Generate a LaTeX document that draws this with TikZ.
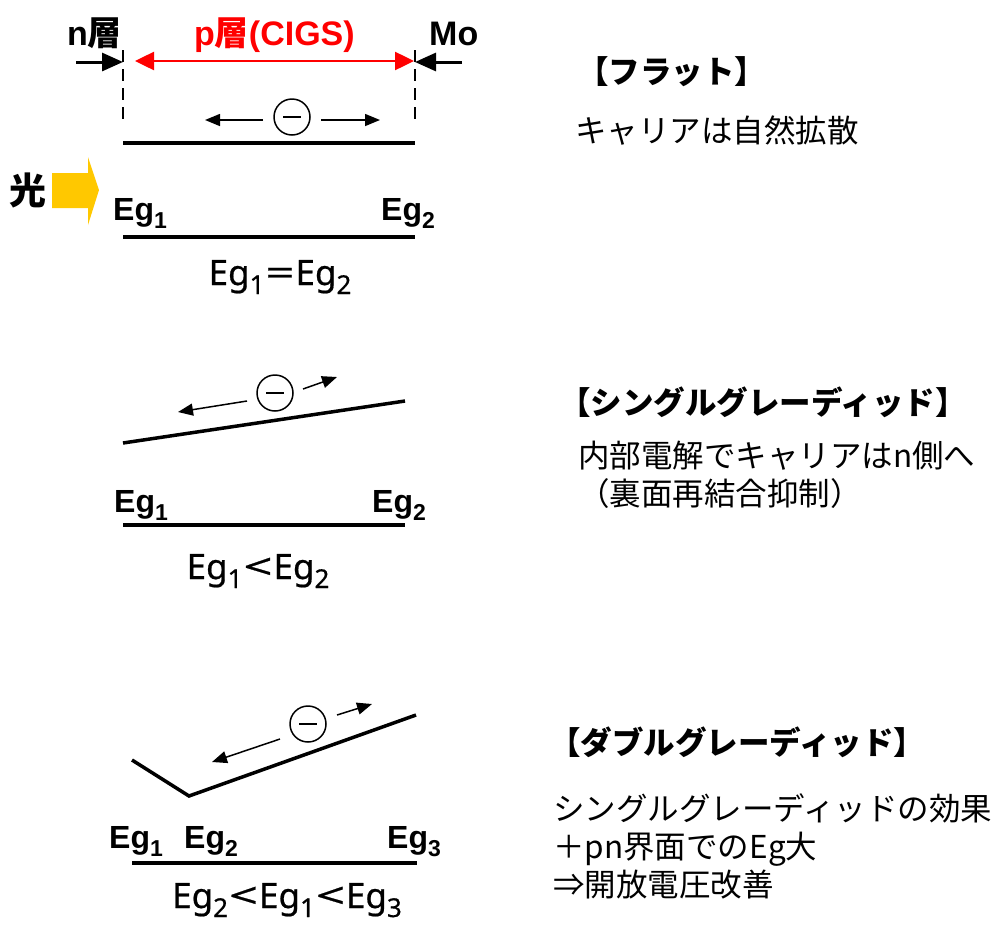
\documentclass[tikz,border=0pt]{standalone}
\usepackage{fontspec}
\setmainfont{Liberation Sans}
\newfontfamily\jp{Noto Sans CJK JP}
\newfontfamily\ns{Noto Sans}[FakeBold=0.6]
\usetikzlibrary{arrows.meta}
\definecolor{gold}{HTML}{FFC800}
\definecolor{pred}{HTML}{FF0000}
\newcommand\sbb[1]{\raisebox{-8pt}{\fontsize{23}{23}\selectfont #1}}
\newcommand\sbe[1]{\raisebox{-9pt}{\fontsize{26}{26}\selectfont #1}}
\newcommand\wrel[1]{\hspace{1pt}\scalebox{1.45}[1]{#1}\hspace{1pt}}
\begin{document}
\begin{tikzpicture}[x=1pt,y=-1pt,
  lbl/.style={font=\bfseries\fontsize{32}{32}\selectfont, inner sep=0, anchor=base west},
  toplbl/.style={font=\bfseries\fontsize{34}{34}\selectfont, inner sep=0, anchor=base west},
  eqn/.style={font=\ns\fontsize{35}{35}\selectfont, inner sep=0, anchor=base},
  hd/.style={font=\jp\bfseries\fontsize{31.5}{38}\selectfont, inner sep=0, anchor=west},
  tx/.style={font=\jp\fontsize{31.5}{38}\selectfont, inner sep=0, anchor=north west, align=left},
  band/.style={line width=3.5pt},
  vline/.style={line width=2.5pt, dash pattern=on 12pt off 7pt},
  elec/.style={circle, draw, line width=1.5pt, minimum size=36pt, inner sep=0},
  earrow/.style={line width=1.5pt, -{Triangle[length=15pt,width=12pt]}},
  barrow/.style={line width=3pt, -{Triangle[length=21pt,width=18pt]}},
  rarrow/.style={pred, line width=2.5pt, {Triangle[length=19pt,width=18pt]}-{Triangle[length=19pt,width=18pt]}}
]
\useasboundingbox (0,0) rectangle (1000,927);

% ---------- Flat ----------
\node[toplbl] (nlay) at (67,45) {n{\jp 層}};
\node[toplbl, text=pred] (play) at (194,45) {p{\jp 層}(CIGS)};
\node[toplbl] (mo) at (429,45) {Mo};
\coordinate (nL) at (123,50); \coordinate (nLb) at (123,120);
\coordinate (mR) at (415,50); \coordinate (mRb) at (415,120);
\draw[vline] (nL) -- (nLb);
\draw[vline] (mR) -- (mRb);
\coordinate (na0) at (76,62); \coordinate (na1) at (123,62);
\draw[barrow] (na0) -- (na1);
\coordinate (ma0) at (462,62); \coordinate (ma1) at (415,62);
\draw[barrow] (ma0) -- (ma1);
\coordinate (ra0) at (135,61); \coordinate (ra1) at (414,61);
\draw[rarrow] (ra0) -- (ra1);

\node[elec] (e1) at (292,117) {};
\draw[line width=1.5pt] ([xshift=-9pt]e1.center) -- ([xshift=9pt]e1.center);
\coordinate (e1l0) at (263,120); \coordinate (e1l1) at (205,120);
\coordinate (e1r0) at (321,120); \coordinate (e1r1) at (380,120);
\draw[earrow] (e1l0) -- (e1l1);
\draw[earrow] (e1r0) -- (e1r1);

\coordinate (c1a) at (123,143); \coordinate (c1b) at (415,143);
\draw[band] (c1a) -- (c1b);
\coordinate (v1a) at (123,237); \coordinate (v1b) at (415,237);
\draw[band] (v1a) -- (v1b);

\fill[gold] (52,173) -- (88,173) -- (88,157) -- (99,190) -- (88,225) -- (88,208) -- (52,208) -- cycle;
\node[font=\jp\bfseries\fontsize{37}{37}\selectfont, inner sep=0] (light) at (28,190) {光};

\node[lbl] (f1) at (113,220) {Eg\sbb{1}};
\node[lbl] (f2) at (381,220) {Eg\sbb{2}};
\node[eqn] (feq) at (280,285) {Eg\sbe{1}\wrel{=}Eg\sbe{2}};

\node[hd] (fh) at (577,72) {【フラット】};
\node[tx, anchor=west] (ft) at (575,131) {キャリアは自然拡散};

% ---------- Single graded ----------
\coordinate (s1a) at (123,443); \coordinate (s1b) at (405,401);
\draw[band] (s1a) -- (s1b);
\node[elec] (e2) at (275,393) {};
\draw[line width=1.5pt] ([xshift=-9pt]e2.center) -- ([xshift=9pt]e2.center);
\coordinate (e2l0) at (247,401); \coordinate (e2l1) at (178,412);
\coordinate (e2r0) at (303,389); \coordinate (e2r1) at (337,377);
\draw[earrow] (e2l0) -- (e2l1);
\draw[earrow] (e2r0) -- (e2r1);
\node[lbl] (s1) at (114,512) {Eg\sbb{1}};
\node[lbl] (s2) at (372,512) {Eg\sbb{2}};
\coordinate (s2a) at (123,525); \coordinate (s2b) at (405,525);
\draw[band] (s2a) -- (s2b);
\node[eqn] (seq) at (258,579) {Eg\sbe{1}\wrel{<}Eg\sbe{2}};

\node[hd] (sh) at (559,402) {【シングルグレーディッド】};
\node[tx] (st) at (578,441) {内部電解でキャリアはn側へ\\（裏面再結合抑制）};

% ---------- Double graded ----------
\coordinate (d1a) at (132,760); \coordinate (d1m) at (189,796); \coordinate (d1b) at (416,715);
\draw[band, line join=miter] (d1a) -- (d1m) -- (d1b);
\node[elec] (e3) at (308,724) {};
\draw[line width=1.5pt] ([xshift=-9pt]e3.center) -- ([xshift=9pt]e3.center);
\coordinate (e3l0) at (280,739); \coordinate (e3l1) at (212,762);
\coordinate (e3r0) at (337,715); \coordinate (e3r1) at (372,704);
\draw[earrow] (e3l0) -- (e3l1);
\draw[earrow] (e3r0) -- (e3r1);
\node[lbl] (d1) at (109,848) {Eg\sbb{1}};
\node[lbl] (d2) at (184,848) {Eg\sbb{2}};
\node[lbl] (d3) at (387,848) {Eg\sbb{3}};
\coordinate (d2a) at (132,863); \coordinate (d2b) at (417,863);
\draw[band] (d2a) -- (d2b);
\node[eqn] (deq) at (287,908) {Eg\sbe{2}\wrel{<}Eg\sbe{1}\wrel{<}Eg\sbe{3}};

\node[hd] (dh) at (549,742) {【ダブルグレーディッド】};
\node[tx] (dt) at (553,793) {シングルグレーディッドの効果\\＋pn界面でのEg大\\⇒開放電圧改善};
\end{tikzpicture}
\end{document}
